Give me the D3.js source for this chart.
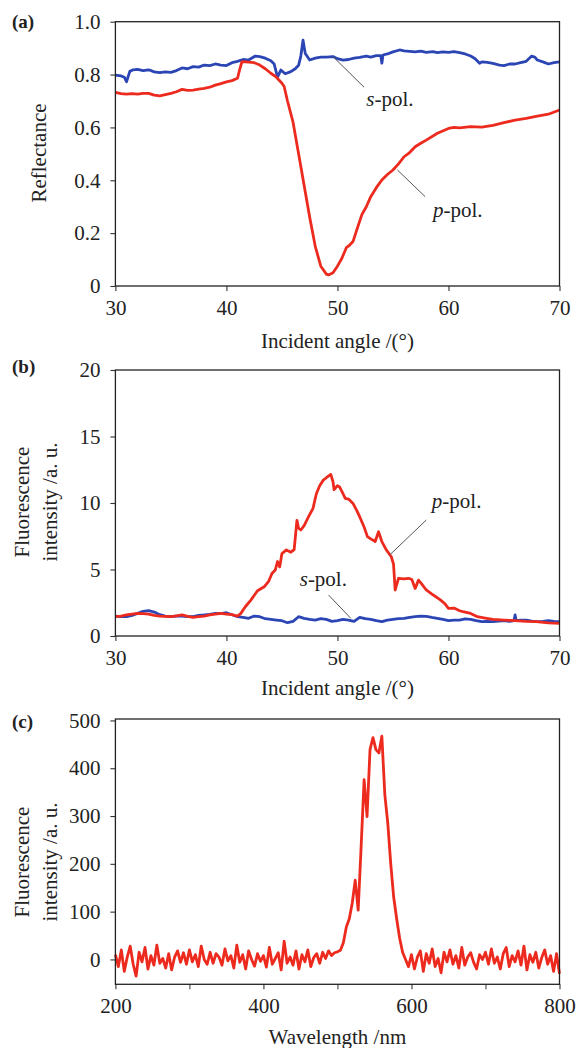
<!DOCTYPE html>
<html><head><meta charset="utf-8">
<script src="https://cdn.jsdelivr.net/npm/d3@7"></script>
<style>
body{margin:0;background:#fff}
svg{display:block}
text{font-family:"Liberation Serif","Times New Roman",serif;fill:#222}
</style>
</head><body>
<svg id="chart" width="576" height="1048"></svg>
<script>
// ---------- Panel (a): reflectance vs incident angle ----------
const aAngleTicks = [30, 40, 50, 60, 70];
const aReflTicks = [0, 0.2, 0.4, 0.6, 0.8, 1.0];
const aSAngle = [30,30.5,30.8,31,31.3,31.6,32,32.5,33,33.5,34,34.5,35,35.5,36,36.5,37,37.5,38,38.5,39,39.5,40,40.5,41,41.5,42,42.6,43,43.5,44,44.3,44.6,44.9,45.3,45.8,46.2,46.5,46.7,46.9,47.1,47.5,48,48.5,49,49.6,50,50.5,51,51.5,52,52.6,53,53.5,53.9,54,54.1,54.5,55,55.6,56,56.5,57,57.5,58,58.6,59,59.5,60,60.5,61,61.5,62,62.4,62.8,63,63.5,64,64.6,65,65.5,66,66.5,67,67.5,67.8,68,68.5,69,69.5,70];
const aSRefl = [0.798,0.795,0.79,0.773,0.812,0.818,0.82,0.815,0.818,0.81,0.807,0.81,0.808,0.815,0.825,0.822,0.83,0.828,0.836,0.834,0.84,0.836,0.834,0.845,0.85,0.857,0.855,0.87,0.868,0.862,0.852,0.84,0.79,0.817,0.803,0.811,0.822,0.835,0.87,0.93,0.88,0.855,0.862,0.866,0.866,0.868,0.86,0.855,0.857,0.862,0.865,0.87,0.866,0.872,0.872,0.843,0.874,0.878,0.886,0.893,0.89,0.888,0.886,0.889,0.884,0.887,0.883,0.886,0.884,0.887,0.883,0.878,0.87,0.86,0.843,0.848,0.846,0.842,0.836,0.834,0.84,0.84,0.845,0.85,0.87,0.865,0.855,0.848,0.84,0.845,0.848];
const aPAngle = [30,30.5,31,31.5,32,32.5,33,33.5,34,34.5,35,35.5,36,36.5,37,37.5,38,38.5,39,39.5,40,40.5,41,41.2,41.4,42,42.5,43,43.5,44,44.5,45,45.2,45.5,46,46.5,47,47.5,48,48.5,49,49.2,49.6,50,50.4,50.8,51.1,51.4,51.8,52.2,52.6,53,53.5,54,54.5,55,55.5,56,56.5,57,57.5,58,59,60,60.5,61,62,63,64,65,66,67,68,69,70];
const aPRefl = [0.733,0.728,0.726,0.728,0.726,0.729,0.729,0.722,0.719,0.724,0.729,0.735,0.744,0.74,0.741,0.745,0.748,0.752,0.76,0.766,0.772,0.777,0.786,0.82,0.849,0.847,0.845,0.836,0.822,0.805,0.79,0.767,0.755,0.70,0.62,0.50,0.38,0.26,0.15,0.075,0.045,0.042,0.05,0.075,0.105,0.145,0.155,0.168,0.22,0.27,0.30,0.338,0.372,0.401,0.422,0.439,0.462,0.489,0.505,0.527,0.54,0.552,0.578,0.596,0.60,0.598,0.603,0.601,0.608,0.618,0.628,0.634,0.643,0.65,0.666];

// ---------- Panel (b): fluorescence intensity vs incident angle ----------
const bAngleTicks = [30, 40, 50, 60, 70];
const bIntTicks = [0, 5, 10, 15, 20];
const bPAngle = [30,30.5,31,31.5,32,32.5,33,33.5,34,34.5,35,35.5,36,36.5,37,37.5,38,38.5,39,39.5,40,40.5,41,41.3,41.7,42.2,42.8,43.4,43.8,44.1,44.4,44.6,44.8,45,45.4,45.8,46.1,46.35,46.5,46.7,47,47.4,47.8,48.1,48.4,48.7,49,49.4,49.6,49.7,50,50.2,50.5,50.7,51,51.4,51.7,52,52.4,52.7,53,53.4,53.7,54,54.4,54.85,55.05,55.2,55.5,56,56.4,56.7,57,57.3,57.6,58,58.6,59.3,59.7,60,60.5,61,61.3,62,62.6,63.3,64,65,66,67,67.9,69,70];
const bPInt = [1.45,1.5,1.58,1.65,1.7,1.68,1.65,1.55,1.5,1.48,1.45,1.52,1.58,1.48,1.4,1.45,1.5,1.58,1.65,1.7,1.65,1.6,1.5,1.7,2.2,2.7,3.4,3.7,4.1,4.7,4.96,5.6,5.2,6.2,6.47,6.3,6.5,8.7,8.1,7.97,8.3,8.97,9.6,10.7,11.3,11.7,11.9,12.15,11.6,11.0,11.3,11.2,10.7,10.35,10.3,9.97,9.5,8.97,8.2,7.47,7.3,7.1,7.84,7.1,6.47,5.96,5.4,3.46,4.34,4.3,4.34,4.25,3.58,4.2,3.9,3.46,3.1,2.7,2.4,2.08,2.1,1.9,1.83,1.7,1.45,1.35,1.25,1.2,1.15,1.1,1.08,0.98,0.95];
const bSAngle = [30,30.5,31,31.5,32,32.5,33,33.5,34,34.5,35,35.5,36,36.5,37,37.5,38,38.5,39,39.5,40,40.5,41,41.5,42,42.5,43,43.5,44,44.5,45,45.5,46,46.5,47,47.5,48,48.5,49,49.5,50,50.5,51,51.5,52,52.5,53,53.5,54,54.5,55,55.5,56,56.5,57,57.5,58,58.5,59,59.5,60,60.5,61,61.5,62,62.5,63,63.5,64,64.5,65,65.5,65.9,66,66.1,66.5,67,67.5,68,68.5,69,69.5,70];
const bSInt = [1.5,1.45,1.45,1.55,1.7,1.85,1.9,1.8,1.6,1.5,1.45,1.5,1.5,1.45,1.45,1.55,1.58,1.62,1.7,1.68,1.75,1.6,1.45,1.4,1.33,1.5,1.45,1.3,1.25,1.2,1.15,1.0,1.1,1.45,1.33,1.25,1.2,1.3,1.25,1.1,1.15,1.25,1.2,1.1,1.4,1.3,1.25,1.15,1.08,1.2,1.25,1.3,1.33,1.4,1.45,1.5,1.48,1.4,1.33,1.25,1.15,1.2,1.2,1.28,1.25,1.15,1.08,1.1,1.08,1.12,1.15,1.1,1.15,1.58,1.15,1.2,1.2,1.12,1.08,1.1,1.15,1.1,1.08];

// ---------- Panel (c): fluorescence spectrum ----------
const cWlTicks = [200, 400, 600, 800];
const cWlMinorTicks = [300, 500, 700];
const cIntTicks = [0, 100, 200, 300, 400, 500];
const cWavelength = d3.range(200, 801, 4);
const cInt = [
  10,-15,20,-25,5,28,-10,-35,15,-5,25,-20,8,-12,30,-8,2,-18,12,-22,5,18,-6,14,-10,
  20,-5,10,-15,28,0,-10,15,-8,12,5,-12,22,-3,8,-18,30,-6,10,-20,18,0,-14,12,-4,
  8,-16,25,-10,2,14,-22,38,-8,5,-12,18,-20,10,-5,20,-15,4,12,-8,15,2,18,8,14,
  16,19,35,68,85,118,166,103,236,376,299,439,464,439,432,467,345,285,200,130,85,45,15,0,-15,
  10,-20,5,18,-25,12,-8,22,-15,2,-28,15,-5,20,-10,8,-18,25,-12,5,14,-6,-20,10,0,
  15,-10,22,-8,5,-20,12,25,-15,8,-5,18,-12,28,-22,10,-6,15,-18,4,20,-10,8,-25,12,-30
];

const RED = "#ec2a1e", BLUE = "#2b45b5";
const svg = d3.select("#chart");
const L = 115.4, R = 559.5;
const FS = 21;

function panel(opt) {
  const x = d3.scaleLinear().domain(opt.xDomain).range([L, R]);
  const y = d3.scaleLinear().domain(opt.yDomain).range([opt.bottom, opt.top]);
  const g = svg.append("g");
  // x axis
  const xa = g.append("g").attr("transform", `translate(0,${opt.bottom})`)
    .call(d3.axisBottom(x).tickValues(opt.xTicks).tickSize(5).tickPadding(9).tickFormat(d3.format("d")));
  if (opt.xMinor) {
    g.append("g").attr("transform", `translate(0,${opt.bottom})`)
      .call(d3.axisBottom(x).tickValues(opt.xMinor).tickSize(5).tickFormat(""))
      .call(s => s.select(".domain").remove());
  }
  const ya = g.append("g").attr("transform", `translate(${L},0)`)
    .call(d3.axisLeft(y).tickValues(opt.yTicks).tickSize(5).tickPadding(10).tickFormat(opt.yFmt));
  [xa, ya].forEach(a => {
    a.select(".domain").remove();
    a.selectAll("line").attr("stroke", "#333").attr("stroke-width", 1.1);
    a.selectAll("text").attr("font-size", FS).attr("font-family", '"Liberation Serif",serif').attr("fill", "#222");
  });
  g.selectAll("g.tick line").attr("stroke", "#333");
  // series
  opt.series.forEach(s => {
    const line = d3.line().x(d => x(d[0])).y(d => y(d[1]));
    g.append("path").datum(d3.zip(s.x, s.y)).attr("d", line)
      .attr("fill", "none").attr("stroke", s.color).attr("stroke-width", 2.8)
      .attr("stroke-linejoin", "round");
  });
  // frame
  g.append("rect").attr("x", L).attr("y", opt.top).attr("width", R - L).attr("height", opt.bottom - opt.top)
    .attr("fill", "none").attr("stroke", "#222").attr("stroke-width", 1.3);
  // annotations
  (opt.notes || []).forEach(n => {
    g.append("line").attr("x1", x(n.line[0])).attr("y1", y(n.line[1]))
      .attr("x2", x(n.line[2])).attr("y2", y(n.line[3]))
      .attr("stroke", "#555").attr("stroke-width", 1);
    const t = g.append("text").attr("x", x(n.at[0])).attr("y", y(n.at[1])).attr("font-size", FS);
    t.append("tspan").attr("font-style", "italic").text(n.letter);
    t.append("tspan").text("-pol.");
  });
  // x title
  g.append("text").attr("x", (L + R) / 2).attr("y", opt.xTitleY).attr("text-anchor", "middle")
    .attr("font-size", FS).text(opt.xTitle);
  // y title(s)
  opt.yTitles.forEach(t => {
    g.append("text").attr("transform", `translate(${t[0]},${opt.yTitleCY}) rotate(-90)`)
      .attr("text-anchor", "middle").attr("font-size", FS).text(t[1]);
  });
  // panel letter
  g.append("text").attr("x", 12).attr("y", opt.letterY).attr("font-size", 19)
    .attr("font-weight", "bold").text(opt.letter);
}

panel({
  xDomain: [30, 70], yDomain: [0, 1.0], top: 21.7, bottom: 286,
  xTicks: aAngleTicks, yTicks: aReflTicks,
  yFmt: d => d === 0 ? "0" : d3.format(".1f")(d),
  series: [
    {x: aSAngle, y: aSRefl, color: BLUE},
    {x: aPAngle, y: aPRefl, color: RED}
  ],
  notes: [
    {letter: "s", at: [52.6, 0.68], line: [49.6, 0.868, 52.4, 0.752]},
    {letter: "p", at: [58.6, 0.26], line: [55.4, 0.439, 57.9, 0.338]}
  ],
  xTitle: "Incident angle /(°)", xTitleY: 348,
  yTitles: [[46, "Reflectance"]], yTitleCY: 153,
  letter: "(a)", letterY: 28
});

panel({
  xDomain: [30, 70], yDomain: [0, 20], top: 370, bottom: 636,
  xTicks: bAngleTicks, yTicks: bIntTicks,
  yFmt: d3.format("d"),
  series: [
    {x: bSAngle, y: bSInt, color: BLUE},
    {x: bPAngle, y: bPInt, color: RED}
  ],
  notes: [
    {letter: "p", at: [58.5, 9.6], line: [58.0, 8.72, 54.7, 6.09]},
    {letter: "s", at: [46.6, 3.76], line: [49.2, 3.08, 51.2, 1.33]}
  ],
  xTitle: "Incident angle /(°)", xTitleY: 695,
  yTitles: [[29, "Fluorescence"], [57, "intensity /a. u."]], yTitleCY: 502,
  letter: "(b)", letterY: 373
});

panel({
  xDomain: [200, 800], yDomain: [-52, 503], top: 719, bottom: 984.3,
  xTicks: cWlTicks, xMinor: cWlMinorTicks, yTicks: cIntTicks,
  yFmt: d3.format("d"),
  series: [
    {x: cWavelength, y: cInt, color: RED}
  ],
  xTitle: "Wavelength /nm", xTitleY: 1044,
  yTitles: [[29, "Fluorescence"], [57, "intensity /a. u."]], yTitleCY: 862,
  letter: "(c)", letterY: 728
});
</script>
</body></html>
